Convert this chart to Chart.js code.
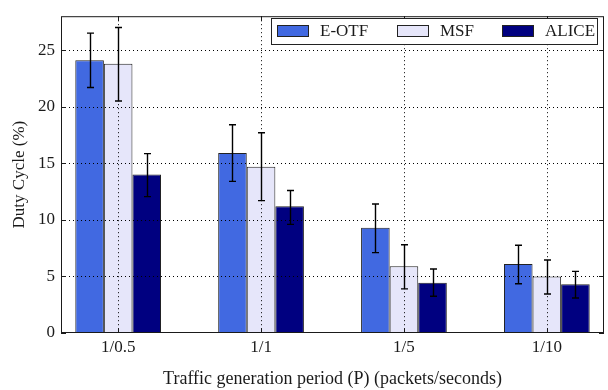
<!DOCTYPE html>
<html>
<head>
<meta charset="utf-8">
<script src="https://cdn.jsdelivr.net/npm/chart.js@4/dist/chart.umd.min.js"></script>
<style>
  html, body { margin: 0; padding: 0; background: #fff; }
  #wrap { width: 608px; height: 390px; }
</style>
</head>
<body>
<div id="wrap"><canvas id="duty" width="608" height="390"></canvas></div>
<script>
const categories = [ '1/0.5', '1/1', '1/5', '1/10' ]
const seriesNames = [ 'E-OTF', 'MSF', 'ALICE' ]

const eotf = [ 24.1, 15.9, 9.3, 6.1 ]
const eotfLow = [ 21.7, 13.4, 7.1, 4.35 ]
const eotfHigh = [ 26.5, 18.4, 11.4, 7.75 ]

const msf = [ 23.8, 14.7, 5.9, 5.0 ]
const msfLow = [ 20.5, 11.7, 3.9, 3.45 ]
const msfHigh = [ 27.0, 17.7, 7.8, 6.45 ]

const alice = [ 14.0, 11.2, 4.45, 4.3 ]
const aliceLow = [ 12.05, 9.6, 3.25, 3.1 ]
const aliceHigh = [ 15.85, 12.6, 5.65, 5.45 ]

const yTicks = [ 0, 5, 10, 15, 20, 25 ]

const serif = '"Liberation Serif", "DejaVu Serif", serif'
const ink = '#1a1a1a'

const toPoints = (values, low, high) =>
  values.map((v, i) => ({ x: i, y: v, low: low[i], high: high[i] }))

// grid on top of the bars (like matplotlib), plus frame and inward ticks
const gridFrame = {
  id: 'gridFrame',
  afterDatasetsDraw(chart) {
    const { ctx, chartArea: a, scales: { x, y } } = chart
    ctx.save()
    ctx.strokeStyle = '#000'
    ctx.lineWidth = 1
    ctx.setLineDash([1, 3])
    yTicks.forEach(t => {
      const py = Math.round(y.getPixelForValue(t)) + 0.5
      if (t === 0) return
      ctx.beginPath(); ctx.moveTo(a.left, py); ctx.lineTo(a.right, py); ctx.stroke()
    })
    categories.forEach((c, i) => {
      const px = Math.round(x.getPixelForValue(i)) + 0.5
      ctx.beginPath(); ctx.moveTo(px, a.top); ctx.lineTo(px, a.bottom); ctx.stroke()
    })
    ctx.setLineDash([])
    ctx.strokeStyle = ink
    ctx.strokeRect(a.left + 0.5, a.top + 0.5, a.right - a.left - 1, a.bottom - a.top - 1)
    ctx.beginPath()
    yTicks.forEach(t => {
      const py = Math.round(y.getPixelForValue(t)) + 0.5
      ctx.moveTo(a.left, py); ctx.lineTo(a.left + 5, py)
      ctx.moveTo(a.right, py); ctx.lineTo(a.right - 5, py)
    })
    categories.forEach((c, i) => {
      const px = Math.round(x.getPixelForValue(i)) + 0.5
      ctx.moveTo(px, a.bottom); ctx.lineTo(px, a.bottom - 5)
      ctx.moveTo(px, a.top); ctx.lineTo(px, a.top + 5)
    })
    ctx.stroke()
    ctx.restore()
  }
}

const errorBars = {
  id: 'errorBars',
  afterDatasetsDraw(chart) {
    const { ctx, scales: { y } } = chart
    ctx.save()
    ctx.strokeStyle = '#000'
    ctx.lineWidth = 1.4
    chart.data.datasets.forEach((ds, di) => {
      chart.getDatasetMeta(di).data.forEach((bar, i) => {
        const p = ds.data[i]
        const top = y.getPixelForValue(p.high)
        const bot = y.getPixelForValue(p.low)
        const cx = Math.round(bar.x) + 0.5
        ctx.beginPath()
        ctx.moveTo(cx, top); ctx.lineTo(cx, bot)
        ctx.moveTo(cx - 3.5, top); ctx.lineTo(cx + 3.5, top)
        ctx.moveTo(cx - 3.5, bot); ctx.lineTo(cx + 3.5, bot)
        ctx.stroke()
      })
    })
    ctx.restore()
  }
}

const boxLegend = {
  id: 'boxLegend',
  afterDraw(chart) {
    const { ctx } = chart
    const left = 271.5, top = 18.5, w = 326, h = 26
    const swatchX = [ 277, 397, 502 ]
    ctx.save()
    ctx.fillStyle = '#fff'
    ctx.fillRect(left, top, w, h)
    ctx.strokeStyle = '#222'
    ctx.lineWidth = 1
    ctx.strokeRect(left, top, w, h)
    ctx.font = '17px ' + serif
    ctx.textBaseline = 'middle'
    chart.data.datasets.forEach((ds, i) => {
      ctx.fillStyle = ds.backgroundColor
      ctx.fillRect(swatchX[i] + 0.5, 25.5, 31, 11)
      ctx.strokeStyle = '#222'
      ctx.strokeRect(swatchX[i] + 0.5, 25.5, 31, 11)
      ctx.fillStyle = ink
      ctx.fillText(ds.label, swatchX[i] + 43, 32)
    })
    ctx.restore()
  }
}

const colors = [ '#4169E1', '#E6E6FA', '#000080' ]
const lows = [ eotfLow, msfLow, aliceLow ]
const highs = [ eotfHigh, msfHigh, aliceHigh ]

new Chart(document.querySelector('#duty'), {
  type: 'bar',
  plugins: [ gridFrame, errorBars, boxLegend ],
  data: {
    datasets: [ eotf, msf, alice ].map((vals, i) => ({
      label: seriesNames[i],
      data: toPoints(vals, lows[i], highs[i]),
      backgroundColor: colors[i],
      borderColor: '#222',
      borderWidth: 1,
      categoryPercentage: 0.6,
      barPercentage: 1
    }))
  },
  options: {
    responsive: false,
    animation: false,
    layout: { padding: { top: 13, right: 4, left: 0, bottom: 0 } },
    plugins: {
      legend: { display: false },
      tooltip: { enabled: false }
    },
    scales: {
      x: {
        type: 'linear',
        offset: false,
        min: -0.4,
        max: 3.4,
        grid: { display: false, drawTicks: false },
        border: { display: false },
        afterBuildTicks: axis => { axis.ticks = categories.map((c, i) => ({ value: i })) },
        afterFit: axis => { axis.height = 57 },
        ticks: {
          padding: 4,
          color: ink,
          font: { family: serif, size: 17 },
          callback: v => categories[v]
        },
        title: {
          display: true,
          text: 'Traffic generation period (P) (packets/seconds)',
          color: ink,
          font: { family: serif, size: 18 },
          padding: { top: 0, bottom: 0 }
        }
      },
      y: {
        min: 0,
        max: 28,
        grid: { display: false, drawTicks: false },
        border: { display: false },
        afterBuildTicks: axis => { axis.ticks = yTicks.map(v => ({ value: v })) },
        afterFit: axis => { axis.width = 61 },
        ticks: {
          padding: 6,
          color: ink,
          font: { family: serif, size: 17 }
        },
        title: {
          display: true,
          text: 'Duty Cycle (%)',
          color: ink,
          font: { family: serif, size: 17 },
          padding: { top: 9, bottom: 0 }
        }
      }
    }
  }
})
</script>
</body>
</html>
